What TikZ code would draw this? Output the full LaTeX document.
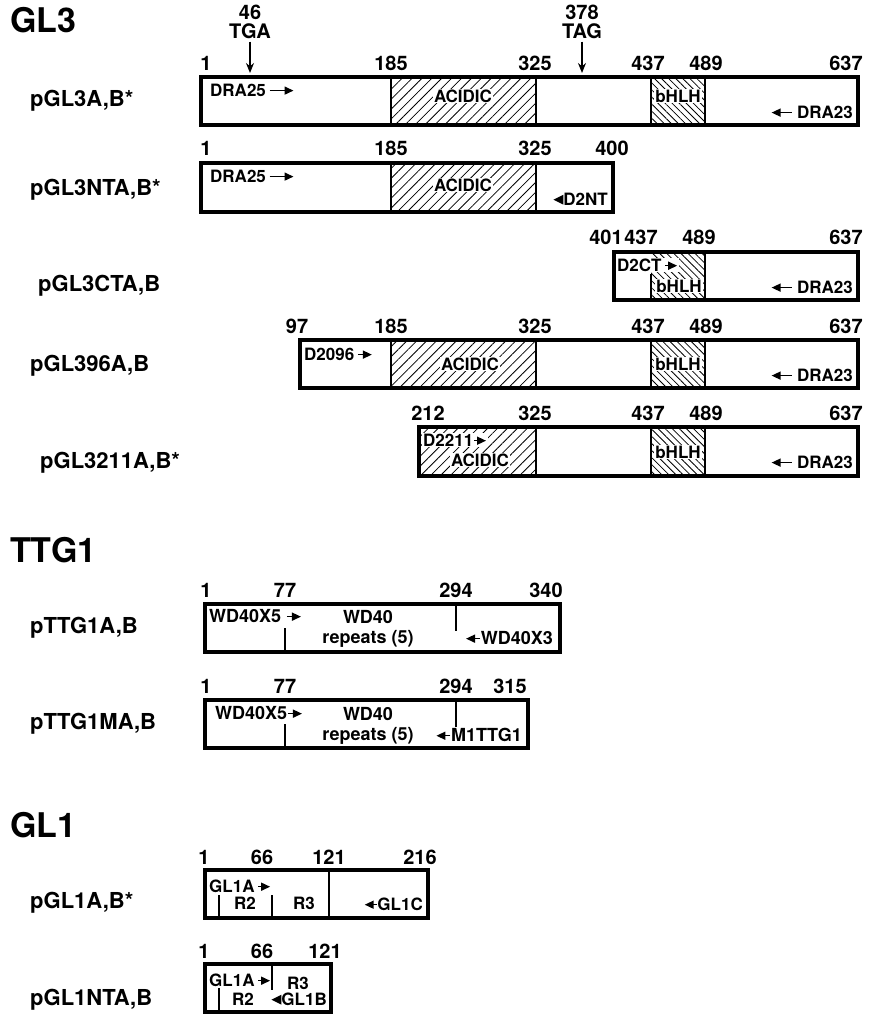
\documentclass[tikz,border=0pt]{standalone}
\usepackage{fontspec}
\setmainfont{TeX Gyre Heros}
\usetikzlibrary{arrows.meta,patterns.meta}

\tikzset{
  tip/.style={-{Triangle[length=9pt,width=8pt]}, line width=1.5pt},
}
% small arrows that sit inside the labels
\newcommand{\rarr}[1][20pt]{\tikz[baseline=-0.6ex]\draw[tip] (0pt,0pt) -- (#1,0pt);}
\newcommand{\larr}[1][20pt]{\tikz[baseline=-0.6ex]\draw[tip] (#1,0pt) -- (0pt,0pt);}
\newcommand{\ltri}{\tikz[baseline=-0.6ex]\fill (0pt,0pt) -- (10pt,5pt) -- (10pt,-5pt) -- cycle;}

\begin{document}
\begin{tikzpicture}[x=1pt, y=-1pt,
    every node/.style={inner sep=0pt},
    title/.style={font=\bfseries\fontsize{34}{36}\selectfont, anchor=west},
    clone/.style={font=\bfseries\fontsize{22}{24}\selectfont, anchor=west},
    num/.style={font=\bfseries\fontsize{20}{22}\selectfont},
    dom/.style={font=\bfseries\fontsize{17}{18}\selectfont},
    domb/.style={font=\bfseries\fontsize{18}{19}\selectfont},
    orf/.style={line width=3.2pt},
    cut/.style={line width=2.4pt},
    acidic/.style={pattern={Lines[angle=45,distance=7pt,line width=0.8pt]}},
    bhlh/.style={pattern={Lines[angle=-45,distance=5pt,line width=0.8pt]}},
    stop/.style={-{Stealth[length=10pt,width=8pt]}, line width=1.4pt},
    ]
    \useasboundingbox (0,0) rectangle (870,1015);

    % ---------------- GL3 ----------------
    \node[title] (gl3) at (10,20) {GL3};

    % stop codons
    \node[num] (n46)  at (250,12) {46};
    \node[num] (tga)  at (250,31) {TGA};
    \node[num] (n378) at (582,12) {378};
    \node[num] (tag)  at (582,31) {TAG};
    \coordinate (s46)  at (250,73);
    \coordinate (s378) at (582,73);
    \draw[stop] (tga.south) ++(0,3) -- (s46);
    \draw[stop] (tag.south) ++(0,3) -- (s378);

    % pGL3A,B*
    \node[clone] (c1) at (30,101) {pGL3A,B*};
    \foreach \v/\x in {1/206,185/391,325/535,437/648,489/706,637/846}
      \node[num] (a\v) at (\x,63) {\v};
    \fill[acidic] (391,77) rectangle (536,125);
    \fill[bhlh] (651,77) rectangle (705,125);
    \draw[cut] (391,77) -- (391,125) (536,77) -- (536,125)
               (651,77) -- (651,125) (705,77) -- (705,125);
    \node[dom, anchor=west] (p25a) at (210,90) {DRA25\,\rarr[24pt]};
    \node[dom, fill=white, inner sep=1pt] (acA) at (463,96) {ACIDIC};
    \node[dom, fill=white, inner sep=1pt] (bhA) at (678,96) {bHLH};
    \node[dom, anchor=east] (p23a) at (853,112) {\larr\ DRA23};
    \draw[orf] (201,77) rectangle (858,125);

    % pGL3NTA,B*
    \node[clone] (c2) at (30,190) {pGL3NTA,B*};
    \foreach \v/\x in {1/206,185/391,325/535,400/612}
      \node[num] (b\v) at (\x,148) {\v};
    \fill[acidic] (391,163) rectangle (536,212);
    \draw[cut] (391,163) -- (391,212) (536,163) -- (536,212);
    \node[dom, anchor=west] (p25b) at (210,176) {DRA25\,\rarr[24pt]};
    \node[dom, fill=white, inner sep=1pt] (acB) at (463,185) {ACIDIC};
    \node[dom, anchor=east] (d2nt) at (608,199) {\ltri D2NT};
    \draw[orf] (201,163) rectangle (613,212);

    % pGL3CTA,B
    \node[clone] (c3) at (38,286) {pGL3CTA,B};
    \foreach \v/\x in {401/606,437/641,489/699,637/846}
      \node[num] (c\v) at (\x,237) {\v};
    \fill[bhlh] (651,252) rectangle (705,300);
    \draw[cut] (651,274) -- (651,300) (705,252) -- (705,300);
    \node[dom, anchor=west, fill=white, inner sep=1pt] (d2ct) at (616,265) {D2CT\,\rarr[12pt]};
    \node[dom, fill=white, inner sep=1pt] (bhC) at (679,286) {bHLH};
    \node[dom, anchor=east] (p23c) at (853,287) {\larr\ DRA23};
    \draw[orf] (614,252) rectangle (858,300);

    % pGL396A,B
    \node[clone] (c4) at (30,366) {pGL396A,B};
    \foreach \v/\x in {97/297,185/391,325/535,437/648,489/706,637/846}
      \node[num] (d\v) at (\x,326) {\v};
    \fill[acidic] (391,340) rectangle (536,388);
    \fill[bhlh] (651,340) rectangle (705,388);
    \draw[cut] (391,340) -- (391,388) (536,340) -- (536,388)
               (651,340) -- (651,388) (705,340) -- (705,388);
    \node[dom, anchor=west] (d2096) at (304,354) {D2096\,\rarr[14pt]};
    \node[dom, fill=white, inner sep=1pt] (acD) at (470,364) {ACIDIC};
    \node[dom, fill=white, inner sep=1pt] (bhD) at (678,364) {bHLH};
    \node[dom, anchor=east] (p23d) at (853,375) {\larr\ DRA23};
    \draw[orf] (300,340) rectangle (858,388);

    % pGL3211A,B*
    \node[clone] (c5) at (40,463) {pGL3211A,B*};
    \foreach \v/\x in {212/428,325/535,437/648,489/706,637/846}
      \node[num] (e\v) at (\x,413) {\v};
    \fill[acidic] (419,427) rectangle (536,476);
    \fill[bhlh] (651,427) rectangle (705,476);
    \draw[cut] (536,427) -- (536,476)
               (651,427) -- (651,476) (705,427) -- (705,476);
    \node[dom, anchor=west, fill=white, inner sep=1pt] (d2211) at (422,440) {D2211\rarr[12pt]};
    \node[dom, fill=white, inner sep=1pt] (acE) at (480,460) {ACIDIC};
    \node[dom, fill=white, inner sep=1pt] (bhE) at (678,452) {bHLH};
    \node[dom, anchor=east] (p23e) at (853,462) {\larr\ DRA23};
    \draw[orf] (419,427) rectangle (858,476);

    % ---------------- TTG1 ----------------
    \node[title] (ttg1) at (10,550) {TTG1};

    % pTTG1A,B
    \node[clone] (c6) at (30,628) {pTTG1A,B};
    \foreach \v/\x in {1/206,77/285,294/456,340/546}
      \node[num] (f\v) at (\x,590) {\v};
    \draw[cut] (285,628) -- (285,652) (456,604) -- (456,631);
    \node[domb, anchor=west] (x5a) at (209,616) {WD40X5\ \rarr[14pt]};
    \node[domb] (wda) at (368,617) {WD40};
    \node[domb] (rpa) at (368,639) {repeats (5)};
    \node[domb, anchor=east] (x3a) at (553,638) {\larr[14pt]WD40X3};
    \draw[orf] (205,604) rectangle (560,652);

    % pTTG1MA,B
    \node[clone] (c7) at (30,724) {pTTG1MA,B};
    \foreach \v/\x in {1/206,77/285,294/456,315/510}
      \node[num] (g\v) at (\x,686) {\v};
    \draw[cut] (285,724) -- (285,748) (456,700) -- (456,727);
    \node[domb, anchor=west] (x5b) at (215,713) {WD40X5\rarr[14pt]};
    \node[domb] (wdb) at (368,714) {WD40};
    \node[domb] (rpb) at (368,736) {repeats (5)};
    \node[domb, anchor=east] (m1) at (522,735) {\larr[14pt]M1TTG1};
    \draw[orf] (205,700) rectangle (528,748);

    % ---------------- GL1 ----------------
    \node[title] (gl1) at (10,825) {GL1};

    % pGL1A,B*
    \node[clone] (c8) at (30,903) {pGL1A,B*};
    \foreach \v/\x in {1/204,66/262,121/329,216/420}
      \node[num] (h\v) at (\x,857) {\v};
    \draw[cut] (219,895) -- (219,918) (272,895) -- (272,918) (329,870) -- (329,918);
    \node[dom, anchor=west] (g1a) at (209,886) {GL1A\,\rarr[12pt]};
    \node[dom] (r2a) at (245,903) {R2};
    \node[dom] (r3a) at (304,903) {R3};
    \node[dom, anchor=east] (g1c) at (423,904) {\larr[12pt]GL1C};
    \draw[orf] (205,870) rectangle (428,918);

    % pGL1NTA,B
    \node[clone] (c9) at (30,1000) {pGL1NTA,B};
    \foreach \v/\x in {1/204,66/262,121/325}
      \node[num] (i\v) at (\x,951) {\v};
    \draw[cut] (272,964) -- (272,990) (219,988) -- (219,1012);
    \node[dom, anchor=west] (g1b) at (209,980) {GL1A\,\rarr[12pt]};
    \node[dom] (r3b) at (298,983) {R3};
    \node[dom] (r2b) at (243,999) {R2};
    \node[dom, anchor=east] (gl1b) at (327,999) {\ltri GL1B};
    \draw[orf] (205,964) rectangle (331,1012);
  \end{tikzpicture}
\end{document}
